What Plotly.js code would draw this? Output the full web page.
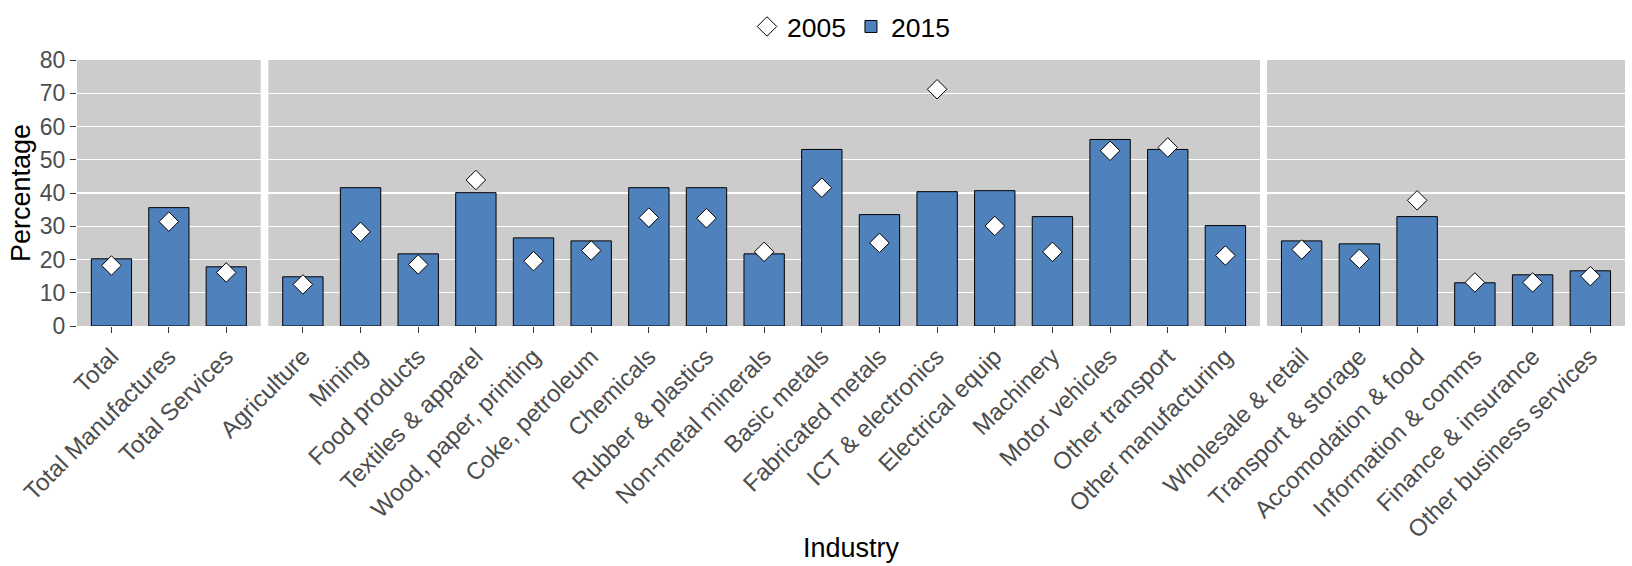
<!DOCTYPE html>
<html>
<head>
<meta charset="utf-8">
<script src="https://cdn.plot.ly/plotly-3.0.1.min.js"></script>
<style>html,body{margin:0;padding:0;background:#fff;}#chart{width:1632px;height:566px;}</style>
</head>
<body>
<div id="chart"></div>
<script>
// ---- data ----
const totalCats = ['Total', 'Total Manufactures', 'Total Services'];
const total2015 = [20.2, 35.6, 17.8];
const total2005 = [18.2, 31.4, 16.1];

const mfgCats = ['Agriculture', 'Mining', 'Food products', 'Textiles & apparel', 'Wood, paper, printing',
  'Coke, petroleum', 'Chemicals', 'Rubber & plastics', 'Non-metal minerals', 'Basic metals',
  'Fabricated metals', 'ICT & electronics', 'Electrical equip', 'Machinery', 'Motor vehicles',
  'Other transport', 'Other manufacturing'];
const mfg2015 = [14.8, 41.6, 21.7, 40.1, 26.5, 25.6, 41.6, 41.6, 21.7, 53.1, 33.5, 40.4, 40.7, 32.9, 56.1, 53.1, 30.2];
const mfg2005 = [12.5, 28.3, 18.5, 43.9, 19.5, 22.7, 32.6, 32.4, 22.3, 41.6, 25.0, 71.2, 30.1, 22.3, 52.7, 53.7, 21.2];

const svcCats = ['Wholesale & retail', 'Transport & storage', 'Accomodation & food', 'Information & comms',
  'Finance & insurance', 'Other business services'];
const svc2015 = [25.6, 24.7, 32.9, 13.0, 15.4, 16.6];
const svc2005 = [23.0, 20.2, 37.8, 13.1, 13.1, 15.0];

const seriesNames = ['2005', '2015'];
const yTicks = [0, 10, 20, 30, 40, 50, 60, 70, 80];

// ---- styling ----
const FONT = 'Liberation Sans, Arial, sans-serif';
const BAR_COLOR = '#4F81BD';
const groups = [
  {cats: totalCats, v15: total2015, v05: total2005, ax: 'x'},
  {cats: mfgCats, v15: mfg2015, v05: mfg2005, ax: 'x2'},
  {cats: svcCats, v15: svc2015, v05: svc2005, ax: 'x3'}
];

const traces = [];
groups.forEach((g, i) => {
  traces.push({
    type: 'bar', x: g.cats, y: g.v15, xaxis: g.ax, yaxis: 'y',
    name: seriesNames[1], legendgroup: 'b', showlegend: i === 0, legendrank: 2,
    width: 0.7,
    marker: {color: BAR_COLOR, line: {color: '#000', width: 1}},
    hoverinfo: 'x+y'
  });
  traces.push({
    type: 'scatter', mode: 'markers', x: g.cats, y: g.v05, xaxis: g.ax, yaxis: 'y',
    name: seriesNames[0], legendgroup: 'a', showlegend: i === 0, legendrank: 1,
    marker: {symbol: 'diamond', size: 15, color: '#fff', line: {color: '#000', width: 1}},
    hoverinfo: 'x+y'
  });
});

const W = 1548;
const px = v => (v - 77) / W;
function xax(domain, n) {
  return {
    type: 'category', domain: domain, range: [-0.6, n - 0.4], anchor: 'y',
    tickangle: -45, tickfont: {family: FONT, size: 24, color: '#4d4d4d'},
    ticks: 'outside', ticklen: 6, tickcolor: '#333', tickwidth: 1,
    showgrid: false, zeroline: false, showline: false, fixedrange: true, automargin: false
  };
}

const layout = {
  width: 1632, height: 566,
  margin: {l: 77, r: 7, t: 60, b: 240, autoexpand: false},
  paper_bgcolor: '#fff', plot_bgcolor: '#CCCCCC',
  font: {family: FONT, color: '#000'},
  showlegend: true,
  legend: {
    orientation: 'h', x: 0.5, xanchor: 'center', y: 1.125, yanchor: 'middle',
    font: {family: FONT, size: 26.5, color: '#000'}, bgcolor: 'rgba(0,0,0,0)',
    traceorder: 'normal', itemclick: false, itemwidth: 30
  },
  xaxis: xax([0, px(260.7)], totalCats.length),
  xaxis2: xax([px(268.3), px(1260)], mfgCats.length),
  xaxis3: xax([px(1267), 1], svcCats.length),
  yaxis: {
    range: [0, 80], tickvals: yTicks, ticktext: yTicks.map(String),
    tickfont: {family: FONT, size: 23, color: '#4d4d4d'},
    ticks: 'outside', ticklen: 6, tickcolor: '#333', tickwidth: 1,
    gridcolor: '#ffffff', gridwidth: 1.2, zeroline: false, showline: false,
    title: {text: 'Percentage', font: {family: FONT, size: 27, color: '#000'}, standoff: 1},
    fixedrange: true, automargin: false
  },
  bargap: 0.3,
  annotations: [{
    text: 'Industry', xref: 'paper', yref: 'paper', x: 0.5, y: -0.835,
    xanchor: 'center', yanchor: 'middle', showarrow: false,
    font: {family: FONT, size: 27, color: '#000'}
  }]
};

Plotly.newPlot('chart', traces, layout, {displayModeBar: false, staticPlot: true});
</script>
</body>
</html>
